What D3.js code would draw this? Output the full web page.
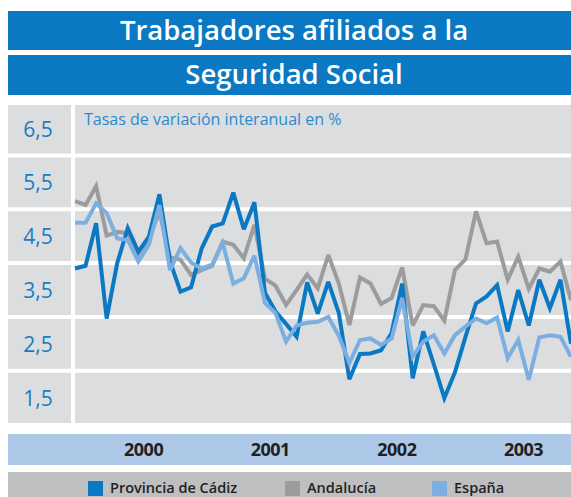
<!DOCTYPE html>
<html>
<head>
<meta charset="utf-8">
<script src="https://cdn.jsdelivr.net/npm/d3@7"></script>
<style>
  body { margin: 0; background: #fff; }
  svg { display: block; font-family: "Open Sans", sans-serif; }
</style>
</head>
<body>
<div id="viz"></div>
<script>
// tasas de variación interanual, ene 2000 - dic 2003
const cadiz = [3.90, 3.95, 4.74, 2.97, 4.00, 4.65, 4.21, 4.49, 5.28, 4.03, 3.47, 3.55,
  4.27, 4.68, 4.74, 5.31, 4.63, 5.13, 3.45, 3.10, 2.87, 2.63, 3.64, 3.06,
  3.65, 3.07, 1.84, 2.31, 2.32, 2.38, 2.70, 3.62, 1.86, 2.73, 2.12, 1.49,
  1.97, 2.63, 3.25, 3.38, 3.59, 2.73, 3.50, 2.84, 3.69, 3.16, 3.69, 2.50];

const andalucia = [5.15, 5.08, 5.43, 4.51, 4.58, 4.56, 4.17, 4.45, 4.95, 4.12, 4.06, 3.78,
  3.87, 3.95, 4.40, 4.34, 4.09, 4.71, 3.71, 3.58, 3.22, 3.50, 3.79, 3.53,
  4.15, 3.62, 2.85, 3.73, 3.62, 3.24, 3.35, 3.92, 2.84, 3.22, 3.20, 2.93,
  3.87, 4.07, 4.96, 4.37, 4.40, 3.69, 4.12, 3.52, 3.90, 3.84, 4.03, 3.31];

const espana = [4.75, 4.75, 5.11, 4.93, 4.46, 4.43, 4.03, 4.34, 5.08, 3.87, 4.28, 4.01,
  3.90, 3.97, 4.37, 3.62, 3.72, 4.14, 3.26, 3.07, 2.54, 2.84, 2.89, 2.91,
  3.00, 2.65, 2.14, 2.57, 2.60, 2.48, 2.60, 3.35, 2.26, 2.54, 2.66, 2.32,
  2.66, 2.82, 2.97, 2.88, 2.99, 2.23, 2.57, 1.83, 2.62, 2.66, 2.63, 2.26];

const years = ["2000", "2001", "2002", "2003"];
const yLabels = [6.5, 5.5, 4.5, 3.5, 2.5, 1.5];
const gridValues = [6, 5, 4, 3, 2];

const series = [
  {name: "Andalucía", values: andalucia, color: "#9b9c9e"},
  {name: "Provincia de Cádiz", values: cadiz, color: "#0a78c2"},
  {name: "España", values: espana, color: "#7cafe1"}
];
const legendOrder = ["Provincia de Cádiz", "Andalucía", "España"];

const width = 571,
  height = 497;

const plot = {left: 75, right: 571, top: 105, bottom: 423};

const x = d3.scaleLinear().domain([0, cadiz.length - 1]).range([plot.left, plot.right]);
const y = d3.scaleLinear().domain([1, 7]).range([424.5, 101.7]);

const es = d3.formatLocale({decimal: ",", thousands: ".", grouping: [3], currency: ["", "€"]});
const fmt = es.format(".1f");

const svg = d3.select("#viz")
  .append("svg")
  .attr("width", width)
  .attr("height", height)
  .attr("viewBox", [0, 0, width, height]);

// bandas del título
const titles = ["Trabajadores afiliados a la", "Seguridad Social"];
const titleBands = [{y: 11, h: 39}, {y: 55, h: 40}];

svg.selectAll(".title-band")
  .data(titleBands)
  .join("rect")
  .attr("class", "title-band")
  .attr("x", 8)
  .attr("y", d => d.y)
  .attr("width", width - 8)
  .attr("height", d => d.h)
  .attr("fill", "#0a78c2");

svg.selectAll(".title")
  .data(titles)
  .join("text")
  .attr("class", "title")
  .attr("x", 294)
  .attr("y", (d, i) => titleBands[i].y + 29)
  .attr("text-anchor", "middle")
  .attr("fill", "#fff")
  .style("font-size", "27.5px")
  .style("font-weight", 600)
  .text(d => d);

// fondo del gráfico
svg.append("rect")
  .attr("x", 8).attr("y", plot.top)
  .attr("width", 63).attr("height", plot.bottom - plot.top)
  .attr("fill", "#dcdddf");

svg.append("rect")
  .attr("x", plot.left).attr("y", plot.top)
  .attr("width", plot.right - plot.left).attr("height", plot.bottom - plot.top)
  .attr("fill", "#dcdddf");

svg.selectAll(".grid")
  .data(gridValues)
  .join("line")
  .attr("class", "grid")
  .attr("x1", 8).attr("x2", width)
  .attr("y1", d => y(d)).attr("y2", d => y(d))
  .attr("stroke", "#fff")
  .attr("stroke-width", 4);

svg.selectAll(".ylab")
  .data(yLabels)
  .join("text")
  .attr("class", "ylab")
  .attr("x", 38)
  .attr("y", d => y(d) + 8)
  .attr("text-anchor", "middle")
  .attr("fill", "#1a7cc4")
  .style("font-size", "21px")
  .text(d => fmt(d));

svg.append("text")
  .attr("x", 84)
  .attr("y", 125)
  .attr("fill", "#2a8ad0")
  .style("font-size", "16px")
  .text("Tasas de variación interanual en %");

// series
const line = d3.line()
  .x((d, i) => x(i))
  .y(d => y(d));

svg.selectAll(".serie")
  .data(series)
  .join("path")
  .attr("class", "serie")
  .attr("d", d => line(d.values))
  .attr("fill", "none")
  .attr("stroke", d => d.color)
  .attr("stroke-width", 4)
  .attr("stroke-linejoin", "miter")
  .attr("stroke-miterlimit", 3);

// eje de años
svg.append("rect")
  .attr("x", 8).attr("y", 434)
  .attr("width", width - 8).attr("height", 31)
  .attr("fill", "#aec8e8");

svg.selectAll(".year")
  .data(years)
  .join("text")
  .attr("class", "year")
  .attr("x", (d, i) => x(6.5 + 12 * i))
  .attr("y", 456)
  .attr("text-anchor", "middle")
  .attr("fill", "#231f20")
  .style("font-size", "18px")
  .style("font-weight", 700)
  .style("letter-spacing", "-0.5px")
  .text(d => d);

// leyenda
svg.append("rect")
  .attr("x", 8).attr("y", 472)
  .attr("width", width - 8).attr("height", height - 472)
  .attr("fill", "#bebfc1");

const legendX = [88, 285, 432];
const legend = svg.selectAll(".legend")
  .data(legendOrder.map(n => series.find(s => s.name === n)))
  .join("g")
  .attr("class", "legend")
  .attr("transform", (d, i) => `translate(${legendX[i]},481)`);

legend.append("rect")
  .attr("width", 15)
  .attr("height", 15)
  .attr("fill", d => d.color);

legend.append("text")
  .attr("x", 22)
  .attr("y", 12)
  .attr("fill", "#231f20")
  .style("font-size", "14.5px")
  .style("font-weight", 600)
  .text(d => d.name);
</script>
</body>
</html>
